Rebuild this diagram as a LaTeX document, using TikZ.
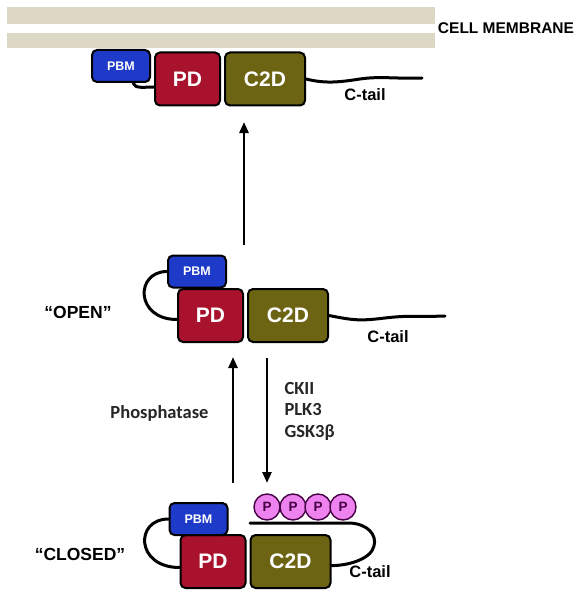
\documentclass[tikz,border=0pt]{standalone}
\usepackage{fontspec}
\setmainfont{Liberation Sans}
\newfontfamily\calib{Carlito}
\usetikzlibrary{arrows.meta}
\definecolor{membrane}{RGB}{221,216,196}
\definecolor{pbmblue}{RGB}{30,58,200}
\definecolor{pdred}{RGB}{168,18,45}
\definecolor{c2dolive}{RGB}{108,100,18}
\definecolor{pviolet}{RGB}{238,130,238}
\definecolor{pdark}{RGB}{70,0,70}
\tikzset{
  protbox/.style={draw=black,line width=2pt,rounded corners=5pt,text=white,
    font=\bfseries\fontsize{21}{21}\selectfont,minimum height=53pt,inner sep=0pt},
  pbm/.style={protbox,fill=pbmblue,minimum width=58pt,minimum height=32pt,
    font=\bfseries\fontsize{12.5}{12.5}\selectfont},
  pd/.style={protbox,fill=pdred,minimum width=65pt},
  c2d/.style={protbox,fill=c2dolive,minimum width=80pt},
  tail/.style={line width=3pt,line cap=round},
  move/.style={line width=2.6pt,-{Triangle[length=11pt,width=9pt]}},
  lbl/.style={font=\bfseries\fontsize{16.5}{16.5}\selectfont},
  state/.style={font=\bfseries\fontsize{17.5}{17.5}\selectfont},
  enz/.style={font=\calib\bfseries\fontsize{18.5}{21.5}\selectfont,align=left,text=black!85},
  phos/.style={circle,draw=pdark,fill=pviolet,line width=1.4pt,minimum size=26pt,
    inner sep=0pt,text=pdark,font=\bfseries\fontsize{13.5}{13.5}\selectfont}
}
\begin{document}
\begin{tikzpicture}[x=1pt,y=-1pt]
  \useasboundingbox (0,0) rectangle (588,599);
  % membrane
  \fill[membrane] (7,7) rectangle (435,24);
  \fill[membrane] (7,33) rectangle (435,48);
  \node[font=\bfseries\fontsize{15.5}{15.5}\selectfont] (mem) at (506,28) {CELL MEMBRANE};

  % at the membrane
  \node[pd] (tPD) at (187.5,79) {PD};
  \node[c2d,anchor=west] (tC2D) at ([xshift=3pt]tPD.east) {C2D};
  \node[pbm] (tPBM) at (121,66) {PBM};
  \coordinate (tEnd) at (422,78);
  \draw[tail] ([xshift=-18pt]tPBM.south east) .. controls +(2,6) and +(-10,0) .. ([yshift=-8pt]tPD.west);
  \draw[tail] (tC2D.east) .. controls +(20,5) and +(-20,3) .. (360,79) .. controls +(20,-3) and +(-25,1) .. (tEnd);
  \node[lbl] (tTail) at (365,95) {C-tail};

  % open
  \node[pd] (oPD) at (210.5,315.5) {PD};
  \node[c2d,anchor=west] (oC2D) at ([xshift=3pt]oPD.east) {C2D};
  \node[pbm] (oPBM) at (197,271.5) {PBM};
  \coordinate (oEnd) at (445,316);
  \draw[tail] (oPBM.west) .. controls +(-32,0) and +(-42,0) .. ([yshift=-4pt]oPD.west);
  \draw[tail] (oC2D.east) .. controls +(25,5) and +(-25,3) .. (385,318) .. controls +(25,-3) and +(-25,1) .. (oEnd);
  \node[lbl] (oTail) at (388,337) {C-tail};
  \node[state] (open) at (78,312) {“OPEN”};

  % closed
  \node[pd] (cPD) at (213,561.5) {PD};
  \node[c2d,anchor=west] (cC2D) at ([xshift=3pt]cPD.east) {C2D};
  \node[pbm] (cPBM) at (198.5,519) {PBM};
  \coordinate (cStart) at (250,523);
  \draw[tail] (cPBM.west) .. controls +(-34,0) and +(-44,0) .. ([yshift=-6pt]cPD.west);
  \draw[tail] (cStart) -- (350,523) .. controls (368,524) and (377,535) .. (374,546)
    .. controls (371,560) and (345,566) .. ([yshift=-4pt]cC2D.east);
  \foreach \i/\x in {1/267,2/293,3/318,4/343}
    \node[phos] (p\i) at (\x,507) {P};
  \node[lbl] (cTail) at (370,572) {C-tail};
  \node[state] (closed) at (80,554) {“CLOSED”};

  % transitions
  \coordinate (upFoot) at (244,245);
  \coordinate (upHead) at (244,122);
  \draw[move] (upFoot) -- (upHead);
  \coordinate (dephFoot) at (233,483);
  \coordinate (dephHead) at (233,357);
  \draw[move] (dephFoot) -- (dephHead);
  \coordinate (kinFoot) at (267,358);
  \coordinate (kinHead) at (267,483);
  \draw[move] (kinFoot) -- (kinHead);
  \node[enz,anchor=east] (phosph) at (212,413) {Phosphatase};
  \node[enz,anchor=west] (kin) at (281,411) {CKII\\PLK3\\GSK3β};
\end{tikzpicture}
\end{document}
